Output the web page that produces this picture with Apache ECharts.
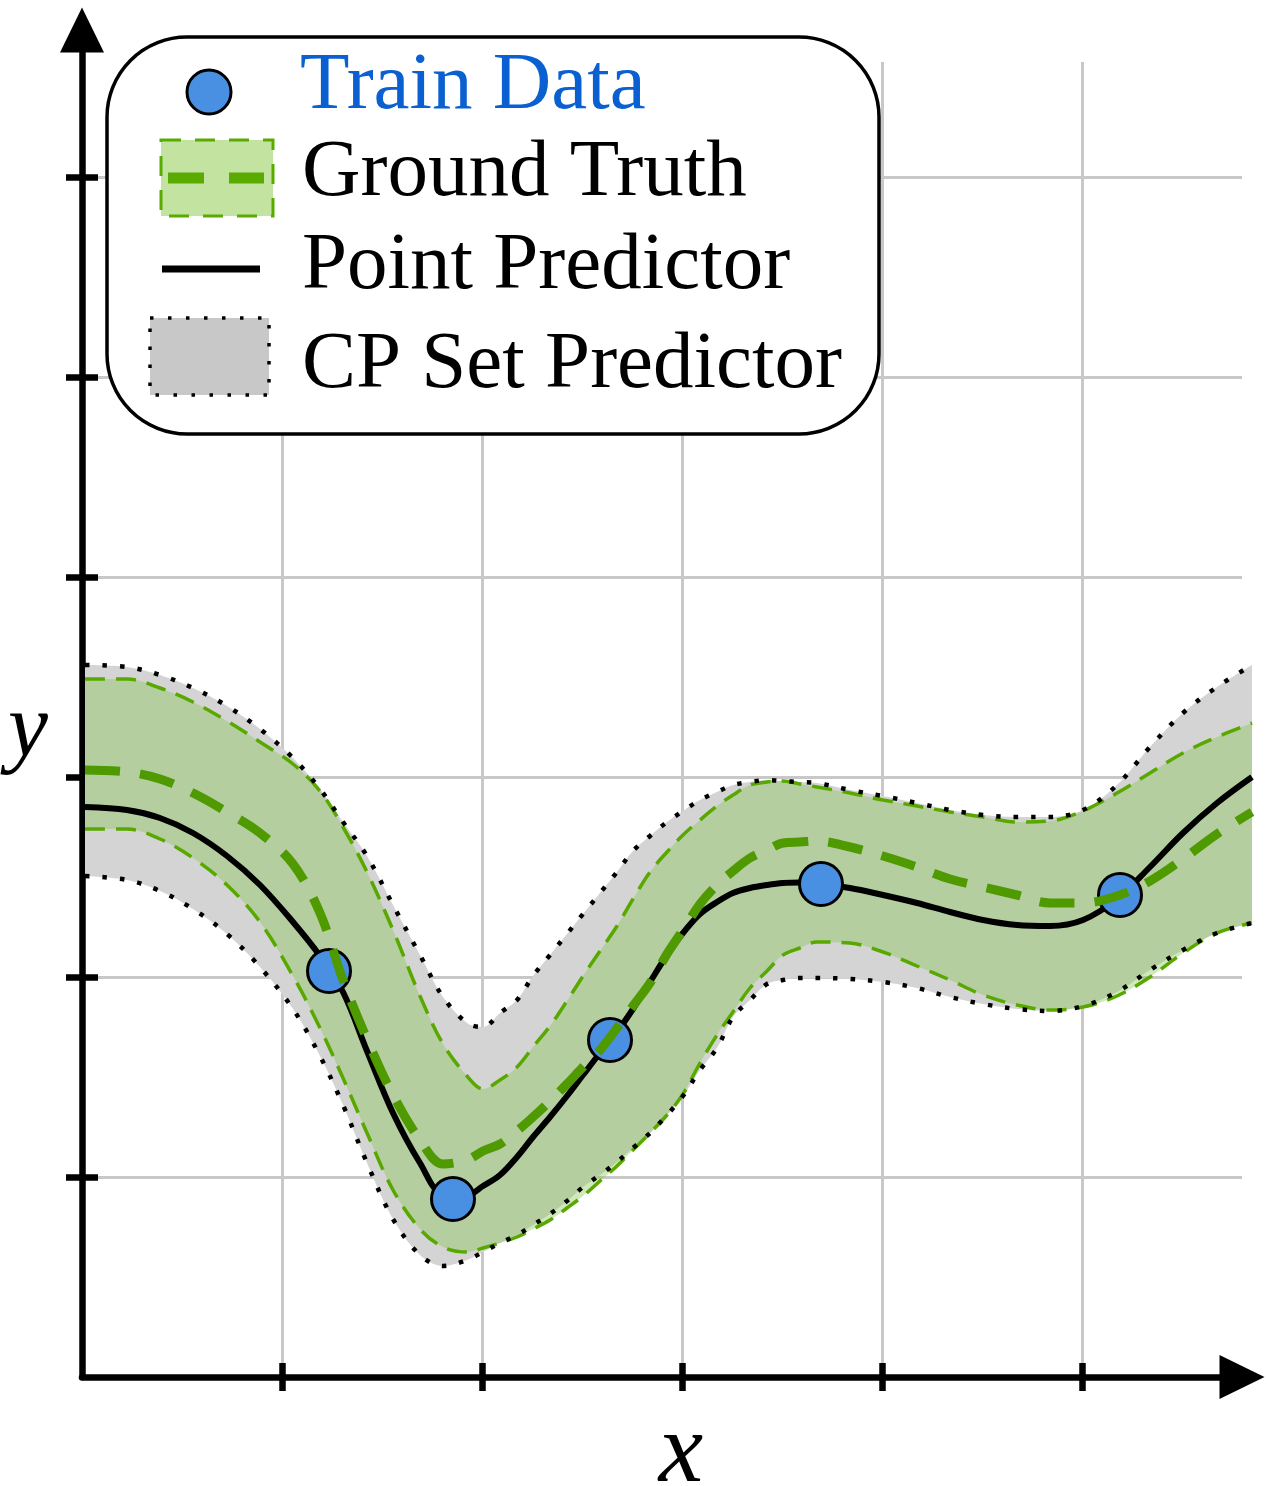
<!DOCTYPE html>
<html lang="en">
<head>
<meta charset="UTF-8" />
<title>CP Set Predictor</title>
<script src="https://cdn.jsdelivr.net/npm/echarts@6/dist/echarts.min.js"></script>
<style>
  html, body { margin: 0; padding: 0; background: #ffffff; }
  #main { width: 1267px; height: 1486px; }
</style>
</head>
<body>
<div id="main"></div>
<script>
// shared x positions of the curves
const xs = [0.015, 0.225, 0.39, 0.555, 0.725, 0.89, 1.055, 1.19, 1.305, 1.425, 1.555, 1.69, 1.805, 1.925,
  2.005, 2.09, 2.175, 2.255, 2.34, 2.425, 2.505, 2.59, 2.675, 2.755, 2.84, 2.925, 3.005, 3.09, 3.175,
  3.255, 3.34, 3.425, 3.505, 3.59, 3.675, 3.84, 4.005, 4.175, 4.34, 4.505, 4.675, 4.84, 5.005, 5.175,
  5.34, 5.505, 5.675, 5.85];

// point predictor (black line)
const predY = [2.85, 2.835, 2.795, 2.72, 2.605, 2.46, 2.275, 2.105, 1.925, 1.63, 1.32, 1.07, 0.915, 0.91,
  0.955, 1.01, 1.10, 1.20, 1.30, 1.405, 1.51, 1.62, 1.725, 1.84, 1.975, 2.11, 2.22, 2.315, 2.375, 2.42,
  2.445, 2.46, 2.47, 2.4725, 2.465, 2.445, 2.41, 2.37, 2.325, 2.285, 2.26, 2.255, 2.285, 2.39, 2.55,
  2.72, 2.87, 3.0];

// ground truth mean and band
const truthY = [3.035, 3.025, 2.99, 2.92, 2.825, 2.72, 2.565, 2.32, 1.985, 1.69, 1.41, 1.185, 1.065, 1.085,
  1.13, 1.165, 1.23, 1.30, 1.38, 1.465, 1.55, 1.635, 1.745, 1.855, 1.97, 2.115, 2.235, 2.365, 2.46, 2.53,
  2.595, 2.635, 2.67, 2.675, 2.68, 2.65, 2.605, 2.55, 2.49, 2.45, 2.41, 2.37, 2.37, 2.405, 2.48, 2.59,
  2.715, 2.825];
const truthHigh = [3.49, 3.49, 3.445, 3.375, 3.28, 3.175, 3.065, 2.93, 2.75, 2.525, 2.235, 1.905, 1.665, 1.505,
  1.44, 1.485, 1.55, 1.65, 1.755, 1.88, 2.005, 2.13, 2.255, 2.39, 2.525, 2.625, 2.71, 2.785, 2.855, 2.91,
  2.96, 2.975, 2.98, 2.965, 2.95, 2.92, 2.885, 2.855, 2.825, 2.80, 2.775, 2.78, 2.83, 2.92, 3.02, 3.12,
  3.20, 3.27];
const truthLow = [2.74, 2.74, 2.69, 2.595, 2.46, 2.275, 2.005, 1.745, 1.495, 1.22, 0.935, 0.74, 0.65, 0.625,
  0.645, 0.67, 0.70, 0.74, 0.785, 0.845, 0.905, 0.98, 1.055, 1.135, 1.22, 1.31, 1.415, 1.57, 1.71, 1.825,
  1.945, 2.03, 2.11, 2.145, 2.175, 2.17, 2.125, 2.055, 1.985, 1.91, 1.86, 1.835, 1.85, 1.905, 2.00, 2.12,
  2.22, 2.27];

// conformal prediction set
const cpHigh = [3.56, 3.55, 3.51, 3.445, 3.355, 3.24, 3.095, 2.94, 2.775, 2.605, 2.36, 2.11, 1.90, 1.77,
  1.75, 1.82, 1.885, 2.005, 2.11, 2.215, 2.315, 2.42, 2.525, 2.63, 2.705, 2.775, 2.83, 2.885, 2.925, 2.96,
  2.975, 2.985, 2.98, 2.975, 2.97, 2.935, 2.905, 2.87, 2.835, 2.81, 2.80, 2.80, 2.835, 2.96, 3.15, 3.32,
  3.45, 3.56];
const cpLow = [2.505, 2.485, 2.43, 2.34, 2.215, 2.05, 1.84, 1.605, 1.36, 1.07, 0.79, 0.61, 0.555, 0.585,
  0.625, 0.67, 0.71, 0.76, 0.815, 0.88, 0.95, 1.01, 1.075, 1.145, 1.22, 1.31, 1.405, 1.535, 1.645, 1.80,
  1.885, 1.965, 1.985, 1.995, 1.995, 1.99, 1.975, 1.945, 1.90, 1.865, 1.84, 1.83, 1.855, 1.925, 2.035,
  2.135, 2.22, 2.27];

// training points
const trainX = [1.235, 1.855, 2.64, 3.695, 5.19];
const trainY = [2.03, 0.89, 1.685, 2.465, 2.41];

// tick positions
const xTicks = [1, 2, 3, 4, 5];
const yTicks = [1, 2, 3, 4, 5, 6];

const legendLabels = ['Train Data', 'Ground Truth', 'Point Predictor', 'CP Set Predictor'];

function pairs(ys) {
  return xs.map((x, i) => [x, ys[i]]);
}
// y first so that the stack is done on y (by index)
function stackPairs(ys) {
  return xs.map((x, i) => [ys[i], x]);
}
function diffPairs(hi, lo) {
  return xs.map((x, i) => [+(hi[i] - lo[i]).toFixed(4), x]);
}

const SMOOTH = 0.35;
const GREEN = '#4e9a00';
const GREEN_EDGE = '#58a800';
const TICK = { color: '#000', width: 6.5 };
const LEGEND_FONT = '81px "Liberation Serif"';

const chart = echarts.init(document.getElementById('main'));

const hidden = { width: 0, opacity: 0 };
// all data series live on grid 2 (same scale, a bit wider than the grid lines)
const onData = { xAxisIndex: 2, yAxisIndex: 2 };

const option = {
  animation: false,
  backgroundColor: '#ffffff',
  grid: [
    { left: 82, right: 25, top: 62, bottom: 109, outerBoundsMode: 'none', containLabel: false },
    { left: 82, right: 25, top: 30, bottom: 109, outerBoundsMode: 'none', containLabel: false },
    { left: 82, right: 15, top: 62, bottom: 109, outerBoundsMode: 'none', containLabel: false }
  ],
  xAxis: [
    {
      gridIndex: 0, type: 'value', min: 0, max: 5.8, interval: 1,
      axisLine: { show: true, onZero: false, lineStyle: { color: '#000', width: 6.5 },
        symbol: ['none', 'triangle'], symbolSize: [44, 45] },
      axisTick: { show: true, inside: false, length: 14, lineStyle: TICK, customValues: xTicks },
      axisLabel: { show: false },
      splitLine: { show: true, lineStyle: { color: '#c8c8c8', width: 3 } }
    },
    {
      gridIndex: 1, type: 'value', min: 0, max: 5.8, interval: 1,
      axisLine: { show: false, onZero: false },
      axisTick: { show: true, inside: true, length: 14, lineStyle: TICK, customValues: xTicks },
      axisLabel: { show: false },
      splitLine: { show: false }
    },
    { gridIndex: 2, type: 'value', min: 0, max: 5.85, show: false }
  ],
  yAxis: [
    {
      gridIndex: 0, type: 'value', min: 0, max: 6.575, interval: 1,
      axisLine: { show: false, onZero: false },
      axisTick: { show: true, inside: false, length: 16, lineStyle: TICK, customValues: yTicks },
      axisLabel: { show: false },
      splitLine: { show: true, lineStyle: { color: '#c8c8c8', width: 3 } }
    },
    {
      gridIndex: 1, type: 'value', min: 0, max: 6.735, interval: 1,
      axisLine: { show: true, onZero: false, lineStyle: { color: '#000', width: 6.5 },
        symbol: ['none', 'triangle'], symbolSize: [44, 45] },
      axisTick: { show: true, inside: true, length: 16, lineStyle: TICK, customValues: yTicks },
      axisLabel: { show: false },
      splitLine: { show: false }
    },
    { gridIndex: 2, type: 'value', min: 0, max: 6.575, show: false }
  ],
  series: [
    // CP band fill
    { ...onData, type: 'line', stack: 'cp', data: stackPairs(cpLow), encode: { x: 1, y: 0 }, smooth: SMOOTH,
      symbol: 'none', clip: false, lineStyle: hidden, z: 1, silent: true },
    { ...onData, type: 'line', stack: 'cp', data: diffPairs(cpHigh, cpLow), encode: { x: 1, y: 0 }, smooth: SMOOTH,
      symbol: 'none', clip: false, lineStyle: hidden, areaStyle: { color: '#d4d4d4', opacity: 1 }, z: 1, silent: true },
    // ground truth band fill
    { ...onData, type: 'line', stack: 'gt', data: stackPairs(truthLow), encode: { x: 1, y: 0 }, smooth: SMOOTH,
      symbol: 'none', clip: false, lineStyle: hidden, z: 2, silent: true },
    { ...onData, type: 'line', stack: 'gt', data: diffPairs(truthHigh, truthLow), encode: { x: 1, y: 0 }, smooth: SMOOTH,
      symbol: 'none', clip: false, lineStyle: hidden, areaStyle: { color: 'rgba(131,197,76,0.38)', opacity: 1 }, z: 2, silent: true },
    // band edges
    { ...onData, type: 'line', data: pairs(truthLow), smooth: SMOOTH, symbol: 'none', clip: false, z: 3,
      lineStyle: { color: GREEN_EDGE, width: 3.5, type: [20, 11] } },
    { ...onData, type: 'line', data: pairs(truthHigh), smooth: SMOOTH, symbol: 'none', clip: false, z: 3,
      lineStyle: { color: GREEN_EDGE, width: 3.5, type: [20, 11] } },
    { ...onData, type: 'line', data: pairs(cpLow), smooth: SMOOTH, symbol: 'none', clip: false, z: 3,
      lineStyle: { color: '#000', width: 4.5, type: [4.5, 13], cap: 'butt' } },
    { ...onData, type: 'line', data: pairs(cpHigh), smooth: SMOOTH, symbol: 'none', clip: false, z: 3,
      lineStyle: { color: '#000', width: 4.5, type: [4.5, 13], cap: 'butt' } },
    // point predictor
    { ...onData, type: 'line', data: pairs(predY), smooth: SMOOTH, symbol: 'none', clip: false, z: 4,
      lineStyle: { color: '#000', width: 6 } },
    // train data
    { ...onData, type: 'scatter', data: trainX.map((x, i) => [x, trainY[i]]), symbol: 'circle', symbolSize: 43, z: 5,
      itemStyle: { color: '#4a90e2', borderColor: '#000', borderWidth: 3, opacity: 1 } },
    // ground truth mean
    { ...onData, type: 'line', data: pairs(truthY), smooth: SMOOTH, symbol: 'none', clip: false, z: 6,
      lineStyle: { color: GREEN, width: 9, type: [35, 20] } }
  ],
  graphic: {
    elements: [
      { type: 'rect', z: 100, shape: { x: 107, y: 37, width: 772, height: 397, r: 80 },
        style: { fill: '#ffffff', stroke: '#000', lineWidth: 3.5 } },
      { type: 'circle', z: 101, shape: { cx: 209, cy: 92, r: 22 },
        style: { fill: '#4a90e2', stroke: '#000', lineWidth: 3 } },
      { type: 'rect', z: 101, shape: { x: 161, y: 140, width: 112, height: 76 },
        style: { fill: '#c3e3a0', stroke: '#5aab00', lineWidth: 3, lineDash: [20, 14] } },
      { type: 'line', z: 102, shape: { x1: 168, y1: 178, x2: 264, y2: 178 },
        style: { stroke: '#5aab00', lineWidth: 11, lineDash: [36, 25] } },
      { type: 'line', z: 101, shape: { x1: 162, y1: 269, x2: 260, y2: 269 },
        style: { stroke: '#000', lineWidth: 7 } },
      { type: 'rect', z: 101, shape: { x: 150, y: 318, width: 119, height: 77 },
        style: { fill: '#c8c8c8', stroke: '#000', lineWidth: 3.5, lineDash: [3.5, 14.5] } },
      { type: 'text', z: 101, x: 300, y: 87,
        style: { text: legendLabels[0], font: LEGEND_FONT, fill: '#0a60d0', align: 'left', verticalAlign: 'middle' } },
      { type: 'text', z: 101, x: 302, y: 174,
        style: { text: legendLabels[1], font: LEGEND_FONT, fill: '#000', align: 'left', verticalAlign: 'middle' } },
      { type: 'text', z: 101, x: 302, y: 267,
        style: { text: legendLabels[2], font: LEGEND_FONT, fill: '#000', align: 'left', verticalAlign: 'middle' } },
      { type: 'text', z: 101, x: 302, y: 366,
        style: { text: legendLabels[3], font: LEGEND_FONT, fill: '#000', align: 'left', verticalAlign: 'middle' } },
      // axis names
      { type: 'text', z: 101, x: 681, y: 1455,
        style: { text: 'x', font: 'italic 100px "Liberation Serif"', fill: '#000', align: 'center', verticalAlign: 'middle' } },
      { type: 'text', z: 101, x: 28, y: 732,
        style: { text: 'y', font: 'italic 90px "Liberation Serif"', fill: '#000', align: 'center', verticalAlign: 'middle' } }
    ]
  }
};

chart.setOption(option);
</script>
</body>
</html>
